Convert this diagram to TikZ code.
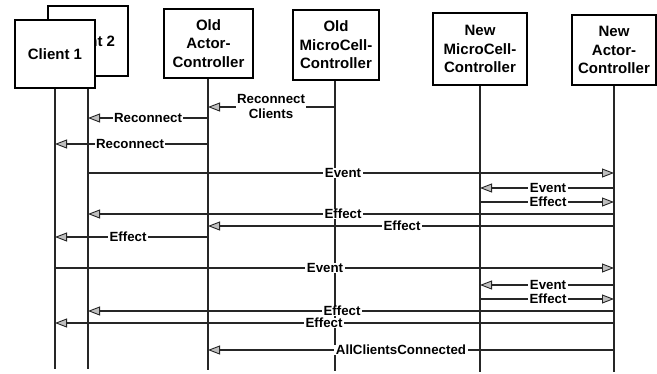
\documentclass[tikz,border=0pt]{standalone}
\usepackage{fontspec}
\setmainfont{Liberation Sans}
\usetikzlibrary{arrows.meta}
\tikzset{
  box/.style={draw=black, line width=2pt, fill=white, align=center, inner sep=1pt,
    font=\bfseries\fontsize{15}{18.5}\selectfont},
  life/.style={draw=black!85, line width=2pt},
  msg/.style={draw=black!85, line width=2pt,
    -{Triangle[length=12pt,width=9pt,fill=gray!50,line width=0.9pt]}},
  lab/.style={fill=white, inner xsep=1.5pt, inner ysep=0.5pt, align=center,
    font=\bfseries\fontsize{13.3}{15.5}\selectfont}
}
\begin{document}
\begin{tikzpicture}[x=1pt,y=-1pt]
\useasboundingbox (0,0) rectangle (657,373);
% boxes
\node[box, minimum width=80pt, minimum height=70pt] (c2) at (88,41) {Client 2};
\node[box, minimum width=80pt, minimum height=68pt] (c1) at (55,54) {Client 1};
\node[box, minimum width=89pt, minimum height=69pt] (oa) at (208.5,43.5) {Old\\Actor-\\Controller};
\node[box, minimum width=86pt, minimum height=70pt] (om) at (336,45) {Old\\MicroCell-\\Controller};
\node[box, minimum width=94pt, minimum height=72pt] (nm) at (480,49) {New\\MicroCell-\\Controller};
\node[box, minimum width=84pt, minimum height=70pt] (na) at (614,50) {New\\Actor-\\Controller};
% lifeline ends
\coordinate (c1e) at (55,369);
\coordinate (c2e) at (88,369);
\coordinate (oae) at (208,370);
\coordinate (ome) at (335,371);
\coordinate (nme) at (480,372);
\coordinate (nae) at (614,372);
\draw[life] (c1.south) -- (c1e);
\draw[life] (c1.south -| c2e) -- (c2e);
\draw[life] (oa.south -| oae) -- (oae);
\draw[life] (om.south -| ome) -- (ome);
\draw[life] (nm.south) -- (nme);
\draw[life] (na.south) -- (nae);
% messages
\draw[msg] (ome |- 0,107) -- (oae |- 0,107);
\node[lab] (l1) at (271,106.5) {Reconnect\\Clients};
\draw[msg] (oae |- 0,118) -- (c2e |- 0,118);
\node[lab] (l2) at (148,118) {Reconnect};
\draw[msg] (oae |- 0,144) -- (c1e |- 0,144);
\node[lab] (l3) at (130,144) {Reconnect};
\draw[msg] (c2e |- 0,173) -- (nae |- 0,173);
\node[lab] (l4) at (343,173) {Event};
\draw[msg] (nae |- 0,188) -- (nme |- 0,188);
\node[lab] (l5) at (548,188) {Event};
\draw[msg] (nme |- 0,202) -- (nae |- 0,202);
\node[lab] (l6) at (548,202) {Effect};
\draw[msg] (nae |- 0,214) -- (c2e |- 0,214);
\node[lab] (l7) at (343,214) {Effect};
\draw[msg] (nae |- 0,226) -- (oae |- 0,226);
\node[lab] (l8) at (402,226) {Effect};
\draw[msg] (oae |- 0,237) -- (c1e |- 0,237);
\node[lab] (l9) at (128,237) {Effect};
\draw[msg] (c1e |- 0,268) -- (nae |- 0,268);
\node[lab] (l10) at (325,268) {Event};
\draw[msg] (nae |- 0,285) -- (nme |- 0,285);
\node[lab] (l11) at (548,285) {Event};
\draw[msg] (nme |- 0,299) -- (nae |- 0,299);
\node[lab] (l12) at (548,299) {Effect};
\draw[msg] (nae |- 0,311) -- (c2e |- 0,311);
\node[lab] (l13) at (342,311) {Effect};
\draw[msg] (nae |- 0,323) -- (c1e |- 0,323);
\node[lab] (l14) at (324,323) {Effect};
\draw[msg] (nae |- 0,350) -- (oae |- 0,350);
\node[lab] (l15) at (401,350) {AllClientsConnected};
\end{tikzpicture}
\end{document}
